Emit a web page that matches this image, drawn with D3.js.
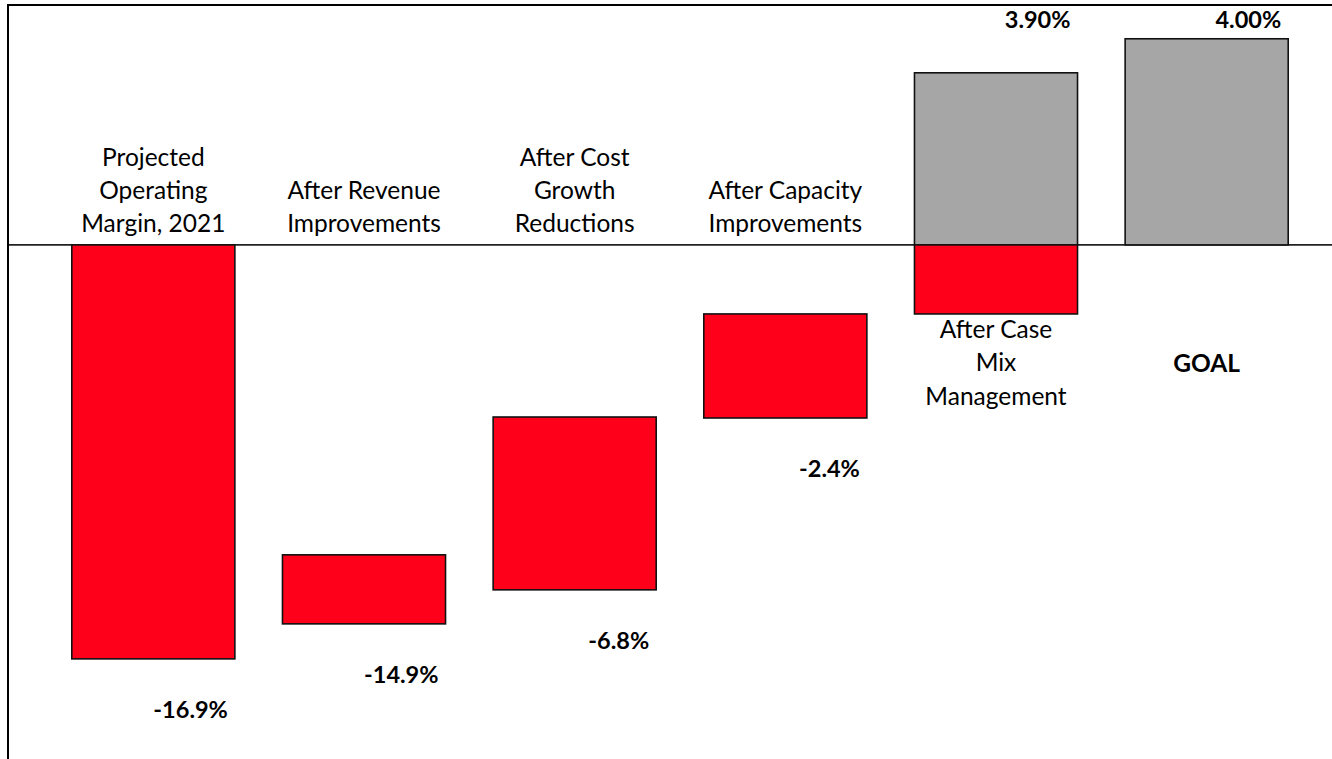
<!DOCTYPE html>
<html>
<head>
<meta charset="utf-8">
<script src="https://cdn.jsdelivr.net/npm/d3@7"></script>
<style>
  body { margin: 0; background: #fff; }
  svg text { font-family: Lato, "Open Sans", sans-serif; fill: #000; }
</style>
</head>
<body>
<div id="chart"></div>
<script>
// step names (lines split with "|")
const categories = ["Projected|Operating|Margin, 2021", "After Revenue|Improvements",
    "After Cost|Growth|Reductions", "After Capacity|Improvements",
    "After Case|Mix|Management", "GOAL"];
// red (drop) segments, top and bottom, in % as drawn
const redTop = [0, -12.66, -7.03, -2.82, 0, null];
const redBottom = [-16.91, -15.48, -14.09, -7.07, -2.82, null];
// grey totals
const greyTop = [null, null, null, null, 7.03, 8.42];
const valueLabels = ["-16.9%", "-14.9%", "-6.8%", "-2.4%", "3.90%", "4.00%"];

class WaterfallChart {
    width = 1332; height = 759;
    left = 8; top = 5;
    svg; xScale; yScale;

    constructor() {
        this.svg = d3.select("#chart").append("svg")
            .attr("width", this.width)
            .attr("height", this.height);
        this.xScale = d3.scaleBand()
            .domain(categories)
            .range([48, 1312])
            .paddingInner(0.226)
            .paddingOuter(0.113);
        this.yScale = d3.scaleLinear()
            .domain([-21, 9.8])
            .range([this.height, this.top]);
        this.drawFrame();
        this.drawBars();
        this.drawLabels();
    }

    drawFrame() {
        // zero line
        this.svg.append("line")
            .attr("x1", this.left).attr("x2", this.width)
            .attr("y1", this.yScale(0)).attr("y2", this.yScale(0))
            .attr("stroke", "#222").attr("stroke-width", 1.6);
        this.svg.append("path")
            .attr("d", "M" + this.left + "," + this.height + "V" + this.top + "H" + this.width)
            .attr("fill", "none").attr("stroke", "#000").attr("stroke-width", 2);
    }

    drawBars() {
        var x = this.xScale, y = this.yScale;
        var g = this.svg.append("g");
        categories.forEach((c, i) => {
            if (greyTop[i] != null) {
                g.append("rect")
                    .attr("x", x(c)).attr("width", x.bandwidth())
                    .attr("y", y(greyTop[i])).attr("height", y(0) - y(greyTop[i]))
                    .attr("fill", "#a6a6a6").attr("stroke", "#111").attr("stroke-width", 1.6);
            }
            if (redTop[i] != null) {
                g.append("rect")
                    .attr("x", x(c)).attr("width", x.bandwidth())
                    .attr("y", y(redTop[i])).attr("height", y(redBottom[i]) - y(redTop[i]))
                    .attr("fill", "#ff001a").attr("stroke", "#111").attr("stroke-width", 1.6);
            }
        });
    }

    drawLabels() {
        var x = this.xScale, y = this.yScale;
        var lineH = 33.3;
        categories.forEach((c, i) => {
            var lines = c.split("|");
            var cx = x(c) + x.bandwidth() / 2;
            var t = this.svg.append("text")
                .attr("text-anchor", "middle")
                .style("font-size", "24.5px")
                .style("font-weight", c == "GOAL" ? "bold" : "normal");
            var firstY;
            if (greyTop[i] == null) {
                // sits above the zero line
                firstY = y(0) - 19 - (lines.length - 1) * lineH;
            } else {
                // under the red part, 3-line block
                var below = redBottom[i] != null ? y(redBottom[i]) : y(-2.82);
                firstY = below + 18 + (3 - lines.length) / 2 * lineH;
            }
            lines.forEach((l, k) => {
                t.append("tspan")
                    .attr("x", cx)
                    .attr("y", firstY + k * lineH)
                    .attr("dominant-baseline", "middle")
                    .text(l);
            });

            // value label
            var vy = greyTop[i] != null ? this.top + 17 : y(redBottom[i]) + 53;
            this.svg.append("text")
                .attr("x", x(c) + x.bandwidth() - 7)
                .attr("y", vy)
                .attr("dominant-baseline", "middle")
                .attr("text-anchor", "end")
                .style("font-size", "23.5px")
                .style("font-weight", "bold")
                .text(valueLabels[i]);
        });
    }
}

new WaterfallChart();
</script>
</body>
</html>
